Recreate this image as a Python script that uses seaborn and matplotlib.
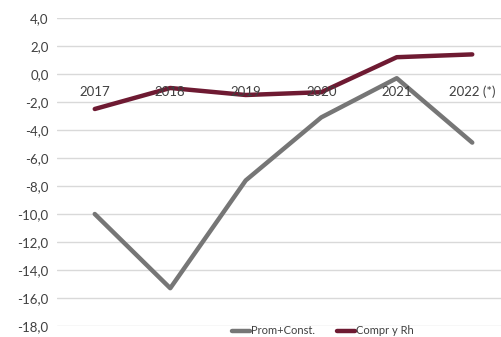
import pandas as pd
import seaborn as sns
import matplotlib.pyplot as plt
from matplotlib.ticker import FuncFormatter, MultipleLocator

years = ["2017", "2018", "2019", "2020", "2021", "2022 (*)"]
prom_const = [-10.0, -15.3, -7.6, -3.1, -0.3, -4.9]
compr_rh = [-2.5, -1.0, -1.5, -1.3, 1.2, 1.4]
series_names = ["Prom+Const.", "Compr y Rh"]

df = pd.DataFrame({
    "year": years * 2,
    "pos": list(range(len(years))) * 2,
    "value": prom_const + compr_rh,
    "serie": [series_names[0]] * len(years) + [series_names[1]] * len(years),
})

sns.set_style("white")
plt.rcParams['font.family'] = ['Lato', 'DejaVu Sans']

fig = plt.figure(figsize=(5.02, 3.37), dpi=100)
ax = fig.add_axes([57 / 502, 11 / 337, 453 / 502, 308 / 337])

palette = {"Prom+Const.": "#767676", "Compr y Rh": "#6E1A32"}
sns.lineplot(data=df, x="pos", y="value", hue="serie", palette=palette,
             linewidth=3.2, ax=ax, legend=False, sort=False)

ax.set_xlim(-0.5, 5.5)
ax.set_ylim(-18, 4)
ax.yaxis.set_major_locator(MultipleLocator(2))
ax.yaxis.set_major_formatter(FuncFormatter(lambda v, p: f"{v:.1f}".replace(".", ",")))
ax.grid(axis="y", color="#D9D9D9", linewidth=1)
ax.set_axisbelow(True)
ax.set_xticks([])
ax.set_xlabel("")
ax.set_ylabel("")
for s in ax.spines.values():
    s.set_visible(False)
ax.tick_params(axis="y", length=0, pad=6, labelsize=9.5, labelcolor="#404040")

# category labels sit just below the zero line, like Excel
for i, y in enumerate(years):
    ax.text(i, -1.3, y, ha="center", va="center", fontsize=9.5, color="#404040")

handles = [plt.Line2D([], [], color=palette[n], linewidth=3.2) for n in series_names]
fig.legend(handles, series_names, loc="center", bbox_to_anchor=(323 / 502, 1 - 331 / 337),
           ncol=2, frameon=False, fontsize=8, handlelength=1.6, handletextpad=0.1,
           columnspacing=2.0, labelcolor="#404040", borderpad=0.1)

plt.savefig("out.png", dpi=100)
